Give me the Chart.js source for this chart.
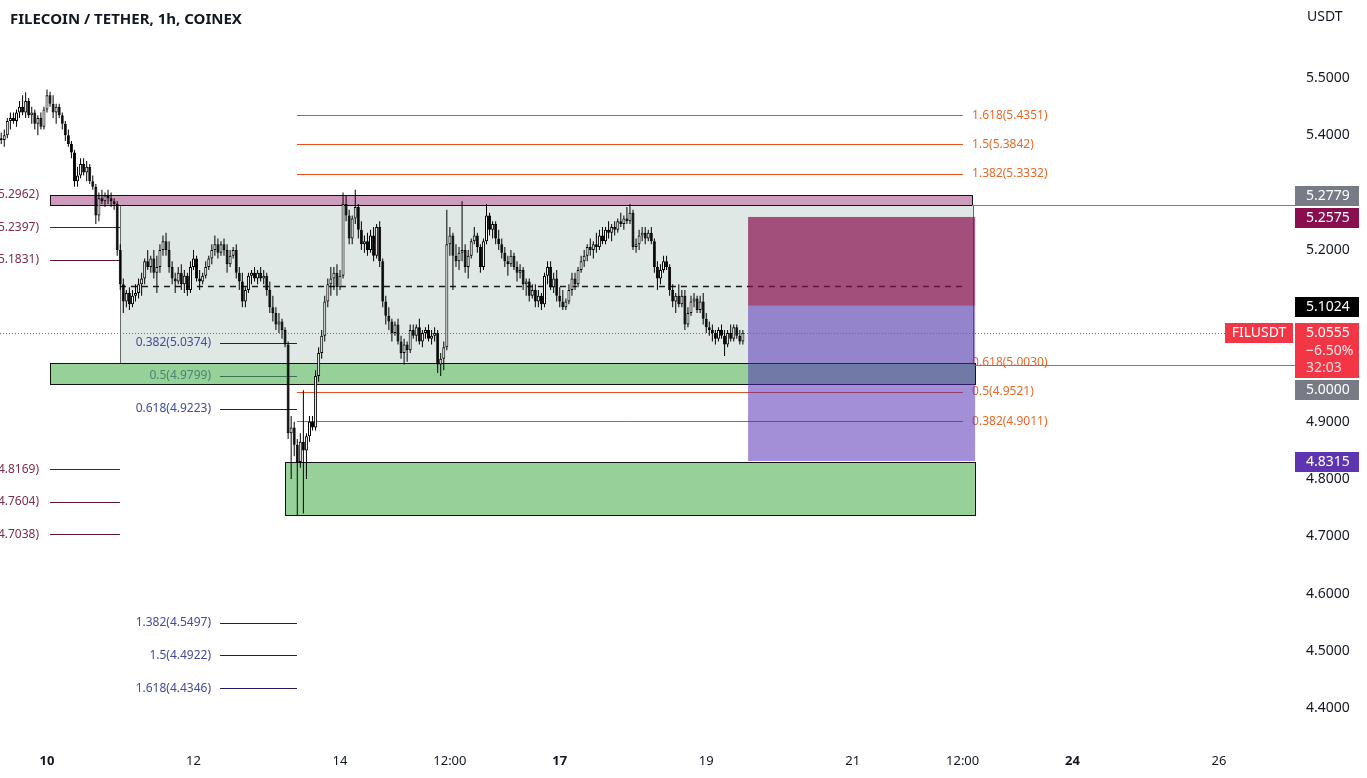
<!DOCTYPE html>
<html><head><meta charset="utf-8">
<script src="https://cdn.jsdelivr.net/npm/chart.js@4.4.1/dist/chart.umd.min.js"></script>
<style>html,body{margin:0;padding:0;background:#fff;overflow:hidden}canvas{display:block}</style>
</head><body>
<canvas id="c" width="1367" height="778"></canvas>
<script>
// ---------- DATA ----------
const startHour = -15; // hours relative to Jan 10 00:00, one candle per hour
const opens = [
5.395,5.392,5.40,5.425,5.43,5.425,5.44,5.45,5.44,5.46,5.435,5.44,5.42,5.43,5.415,
5.445,5.47,5.455,5.44,5.45,5.435,5.42,5.40,5.385,5.37,
5.32,5.33,5.35,5.335,5.345,5.32,5.31,5.26,5.29,5.285,
5.295,5.29,5.285,5.28,5.20,5.14,5.11,5.125,5.105,5.12,
5.125,5.14,5.15,5.18,5.17,5.185,5.16,5.17,5.20,5.215,
5.20,5.17,5.15,5.145,5.16,5.14,5.155,5.13,5.17,5.185,
5.15,5.145,5.155,5.17,5.185,5.20,5.21,5.195,5.21,5.20,
5.175,5.19,5.20,5.16,5.145,5.11,5.13,5.155,5.16,5.15,
5.16,5.15,5.155,5.13,5.10,5.09,5.07,5.075,5.06,5.035,
4.88,4.89,4.86,4.83,4.865,4.85,4.875,4.90,4.89,4.98,
5.02,5.05,5.11,5.14,5.15,5.16,5.135,5.155,5.28,5.26,
5.22,5.255,5.275,5.235,5.21,5.215,5.20,5.225,5.19,5.24,
5.18,5.11,5.085,5.075,5.055,5.07,5.04,5.02,5.035,5.025,
5.06,5.05,5.065,5.04,5.055,5.06,5.045,5.05,5.055,5.00,
5.01,5.03,5.21,5.225,5.19,5.18,5.195,5.20,5.17,5.19,
5.215,5.225,5.205,5.17,5.215,5.26,5.235,5.245,5.22,5.21,
5.195,5.18,5.175,5.19,5.17,5.16,5.165,5.14,5.145,5.12,
5.13,5.11,5.12,5.105,5.155,5.17,5.135,5.15,5.12,5.11,
5.10,5.11,5.13,5.15,5.14,5.165,5.18,5.19,5.205,5.20,
5.21,5.205,5.225,5.215,5.235,5.23,5.24,5.235,5.25,5.245,
5.255,5.25,5.265,5.205,5.21,5.225,5.23,5.22,5.23,5.215,
5.17,5.15,5.165,5.18,5.17,5.13,5.11,5.12,5.105,5.12,
5.07,5.09,5.11,5.115,5.095,5.11,5.08,5.065,5.06,5.055,
5.045,5.06,5.05,5.035,5.055,5.045,5.065,5.05,5.04];
const highs = [
5.405,5.41,5.43,5.44,5.44,5.445,5.46,5.47,5.475,5.465,5.45,5.445,5.435,5.44,5.45,
5.48,5.476,5.47,5.455,5.455,5.44,5.425,5.41,5.39,5.375,
5.345,5.36,5.36,5.355,5.35,5.33,5.315,5.30,5.305,5.30,
5.305,5.30,5.29,5.285,5.21,5.15,5.13,5.135,5.13,5.14,
5.15,5.16,5.185,5.20,5.19,5.20,5.19,5.21,5.225,5.23,
5.215,5.18,5.16,5.17,5.175,5.165,5.16,5.18,5.20,5.19,
5.165,5.16,5.18,5.19,5.21,5.225,5.22,5.215,5.22,5.21,
5.20,5.205,5.21,5.17,5.16,5.135,5.16,5.165,5.17,5.165,
5.17,5.165,5.16,5.145,5.12,5.10,5.09,5.08,5.065,5.04,
4.91,4.90,4.87,4.88,4.955,4.88,4.91,4.91,4.99,5.03,
5.06,5.12,5.15,5.17,5.17,5.175,5.165,5.30,5.295,5.27,
5.26,5.305,5.28,5.25,5.225,5.23,5.235,5.24,5.245,5.25,
5.185,5.12,5.10,5.08,5.075,5.08,5.05,5.045,5.04,5.07,
5.07,5.07,5.08,5.06,5.065,5.07,5.06,5.065,5.06,5.02,
5.04,5.27,5.24,5.23,5.21,5.205,5.285,5.21,5.20,5.22,
5.24,5.23,5.21,5.22,5.28,5.265,5.25,5.25,5.235,5.22,
5.205,5.19,5.20,5.195,5.18,5.175,5.17,5.15,5.15,5.14,
5.14,5.13,5.125,5.16,5.18,5.18,5.16,5.165,5.135,5.13,
5.115,5.14,5.16,5.16,5.17,5.19,5.20,5.21,5.22,5.215,
5.23,5.235,5.24,5.24,5.25,5.245,5.25,5.255,5.265,5.26,
5.275,5.28,5.27,5.22,5.235,5.24,5.24,5.235,5.24,5.22,
5.18,5.175,5.19,5.19,5.175,5.14,5.125,5.14,5.13,5.13,
5.10,5.12,5.125,5.12,5.12,5.125,5.09,5.075,5.07,5.06,
5.065,5.07,5.06,5.06,5.07,5.07,5.07,5.06,5.06];
const lows = [
5.385,5.38,5.395,5.41,5.42,5.415,5.43,5.435,5.43,5.43,5.42,5.41,5.40,5.41,5.41,
5.44,5.45,5.43,5.42,5.43,5.41,5.39,5.38,5.36,5.31,
5.31,5.325,5.33,5.32,5.315,5.305,5.245,5.25,5.28,5.275,
5.28,5.275,5.27,5.19,5.13,5.09,5.10,5.095,5.10,5.11,
5.115,5.12,5.14,5.165,5.16,5.15,5.125,5.16,5.19,5.19,
5.16,5.14,5.125,5.14,5.13,5.125,5.12,5.125,5.165,5.145,
5.13,5.14,5.15,5.165,5.175,5.19,5.185,5.19,5.19,5.16,
5.17,5.185,5.15,5.13,5.10,5.10,5.125,5.14,5.145,5.14,
5.145,5.14,5.12,5.09,5.075,5.06,5.055,5.045,5.03,4.87,
4.80,4.84,4.736,4.82,4.74,4.80,4.865,4.885,4.885,4.97,
5.01,5.04,5.10,5.12,5.13,5.12,5.13,5.15,5.25,5.21,
5.21,5.245,5.22,5.20,5.195,5.19,5.195,5.18,5.185,5.17,
5.10,5.07,5.06,5.04,5.05,5.035,5.01,5.00,5.005,5.02,
5.045,5.04,5.035,5.03,5.045,5.04,5.035,5.04,4.985,4.98,
4.99,5.025,5.19,5.13,5.17,5.165,5.18,5.16,5.15,5.185,
5.21,5.195,5.16,5.165,5.21,5.225,5.22,5.21,5.20,5.185,
5.17,5.155,5.17,5.165,5.145,5.15,5.13,5.12,5.11,5.115,
5.10,5.10,5.095,5.10,5.14,5.13,5.125,5.11,5.10,5.095,
5.095,5.105,5.12,5.13,5.135,5.16,5.17,5.18,5.19,5.185,
5.195,5.20,5.21,5.21,5.22,5.215,5.225,5.23,5.24,5.235,
5.245,5.245,5.20,5.195,5.20,5.215,5.21,5.215,5.21,5.16,
5.13,5.14,5.16,5.165,5.12,5.10,5.09,5.10,5.10,5.06,
5.065,5.085,5.10,5.09,5.09,5.07,5.055,5.05,5.04,5.035,
5.04,5.045,5.015,5.03,5.04,5.04,5.045,5.035,5.035];
const closes = [
5.392,5.40,5.425,5.43,5.425,5.44,5.45,5.44,5.46,5.435,5.44,5.42,5.43,5.415,5.445,
5.47,5.455,5.44,5.45,5.435,5.42,5.40,5.385,5.37,5.32,
5.33,5.35,5.335,5.345,5.32,5.31,5.26,5.29,5.285,5.295,
5.29,5.285,5.28,5.20,5.14,5.11,5.125,5.105,5.12,5.125,
5.14,5.15,5.18,5.17,5.185,5.16,5.17,5.20,5.215,5.20,
5.17,5.15,5.145,5.16,5.14,5.155,5.13,5.17,5.185,5.15,
5.145,5.155,5.17,5.185,5.20,5.21,5.195,5.21,5.20,5.175,
5.19,5.20,5.16,5.145,5.11,5.13,5.155,5.16,5.15,5.16,
5.15,5.155,5.13,5.10,5.09,5.07,5.075,5.06,5.035,4.88,
4.89,4.86,4.83,4.865,4.85,4.875,4.90,4.89,4.98,5.02,
5.05,5.11,5.14,5.15,5.16,5.135,5.155,5.28,5.26,5.22,
5.255,5.275,5.235,5.21,5.215,5.20,5.225,5.19,5.24,5.18,
5.11,5.085,5.075,5.055,5.07,5.04,5.02,5.035,5.025,5.06,
5.05,5.065,5.04,5.055,5.06,5.045,5.05,5.055,5.00,5.01,
5.03,5.21,5.225,5.19,5.18,5.195,5.20,5.17,5.19,5.215,
5.225,5.205,5.17,5.215,5.26,5.235,5.245,5.22,5.21,5.195,
5.18,5.175,5.19,5.17,5.16,5.165,5.14,5.145,5.12,5.13,
5.11,5.12,5.105,5.155,5.17,5.135,5.15,5.12,5.11,5.10,
5.11,5.13,5.15,5.14,5.165,5.18,5.19,5.205,5.20,5.21,
5.205,5.225,5.215,5.235,5.23,5.24,5.235,5.25,5.245,5.255,
5.25,5.265,5.205,5.21,5.225,5.23,5.22,5.23,5.215,5.17,
5.15,5.165,5.18,5.17,5.13,5.11,5.12,5.105,5.12,5.07,
5.09,5.11,5.115,5.095,5.11,5.08,5.065,5.06,5.055,5.045,
5.06,5.05,5.035,5.055,5.045,5.065,5.05,5.04,5.0555];

const xTickHours  = [0, 48, 96, 132, 168, 216, 264, 300, 336, 384];
const xTickLabels = ['10','12','14','12:00','17','19','21','12:00','24','26'];
const xTickBold   = [true,false,false,false,true,false,false,false,true,false];
const yTickValues = [4.4,4.5,4.6,4.7,4.8,4.9,5.0,5.1,5.2,5.3,5.4,5.5];

const symbolTitle = 'FILECOIN / TETHER, 1h, COINEX';
const quoteUnit = 'USDT';
const tickerName = 'FILUSDT';
const lastPrice = 5.0555;
const lastChange = '\u22126.50%';
const countdown = '32:03';

const orangeFibLevels = ['1.618','1.5','1.382','0.618','0.5','0.382'];
const orangeFibPrices = [5.4351,5.3842,5.3332,5.0030,4.9521,4.9011];
const navyFibLevels = ['0.382','0.5','0.618','1.382','1.5','1.618'];
const navyFibPrices = [5.0374,4.9799,4.9223,4.5497,4.4922,4.4346];
const redFibPrices = [5.2962,5.2397,5.1831,4.8169,4.7604,4.7038];

const pinkZonePrices = [5.2962, 5.2779];
const rangeZonePrices = [5.2779, 5.0030];
const rangeMidPrice = 5.137;
const greenZoneUpperPrices = [5.0030, 4.9660];
const greenZoneLowerPrices = [4.8290, 4.7370];
const positionPrices = [5.2575, 5.1024, 4.8315]; // stop, entry, target
const rayPrices = [5.2779, 5.0000];

if (!(opens.length===highs.length && highs.length===lows.length && lows.length===closes.length)) {
  throw new Error('length mismatch '+opens.length+' '+highs.length+' '+lows.length+' '+closes.length);
}

// ---------- CHART ----------
const FONT = '"Noto Sans", "Open Sans", Arial, sans-serif';
Chart.defaults.font.family = FONT;
Chart.defaults.color = '#131722';

const hours = closes.map((c,i)=>startHour+i);
const isUp = closes.map((c,i)=>c>=opens[i]);

const drawings = {
  id: 'drawings',
  beforeDatasetsDraw(chart) {
    const ctx = chart.ctx, xs = chart.scales.x, ys = chart.scales.y, ca = chart.chartArea;
    const X = v => xs.getPixelForValue(v), Y = v => ys.getPixelForValue(v);
    const hl = (x1,x2,y,color,w,dash) => {
      ctx.save(); ctx.strokeStyle=color; ctx.lineWidth=w||1; ctx.setLineDash(dash||[]);
      const yy = Math.round(y)+0.5;
      ctx.beginPath(); ctx.moveTo(x1,yy); ctx.lineTo(x2,yy); ctx.stroke(); ctx.restore();
    };
    const box = (x1,x2,p1,p2,fill,stroke) => {
      const y1=Math.round(Y(p1))+0.5, y2=Math.round(Y(p2))+0.5, a=Math.round(x1)+0.5, b=Math.round(x2)+0.5;
      ctx.fillStyle=fill; ctx.fillRect(a,y1,b-a,y2-y1);
      if (stroke){ ctx.strokeStyle=stroke; ctx.lineWidth=1; ctx.strokeRect(a,y1,b-a,y2-y1); }
    };
    ctx.save();
    ctx.textBaseline='middle';
    ctx.font = '12px '+FONT;
    // range box
    box(X(23.9), X(303.4), rangeZonePrices[0], rangeZonePrices[1], '#dfe8e5', '#6a6a6a');
    // navy fib (left)
    navyFibPrices.forEach((p,i)=>{
      hl(X(56.7), X(81.9), Y(p), '#1f1b5e', 1);
      ctx.fillStyle='#454a9c'; ctx.textAlign='right';
      ctx.fillText(navyFibLevels[i]+'('+p.toFixed(4)+')', X(56.7)-9, Y(p));
    });
    // dark red fib (far left)
    redFibPrices.forEach((p)=>{
      hl(X(1.0), X(23.9), Y(p), '#5a1530', 1);
      ctx.fillStyle='#7f2c46'; ctx.textAlign='right';
      ctx.fillText('('+p.toFixed(4)+')', X(-2.6), Y(p));
    });
    // mid dashed line
    hl(X(23.9), X(301), Y(rangeMidPrice), '#1a1a1a', 1.3, [6,5]);
    // pink zone
    box(X(1.0), X(303.1), pinkZonePrices[0], pinkZonePrices[1], '#cf9bbc', '#111');
    // orange fib
    orangeFibPrices.forEach((p,i)=>{
      hl(X(81.9), X(300.1), Y(p), '#e4501e', 1);
      ctx.fillStyle='#e8682a'; ctx.textAlign='left';
      ctx.fillText(orangeFibLevels[i]+'('+p.toFixed(4)+')', X(303.1), Y(p));
    });
    // green zones
    box(X(1.0), X(304.1), greenZoneUpperPrices[0], greenZoneUpperPrices[1], 'rgba(76,175,80,0.58)', '#111');
    box(X(78), X(304.1), greenZoneLowerPrices[0], greenZoneLowerPrices[1], 'rgba(76,175,80,0.58)', '#111');
    // position tool
    const px1 = X(229.7), px2 = X(304.1);
    ctx.fillStyle='rgba(136,14,79,0.7)';
    ctx.fillRect(px1, Y(positionPrices[0]), px2-px1, Y(positionPrices[1])-Y(positionPrices[0]));
    ctx.fillStyle='rgba(78,40,178,0.52)';
    ctx.fillRect(px1, Y(positionPrices[1]), px2-px1, Y(positionPrices[2])-Y(positionPrices[1]));
    // rays
    hl(X(303.1), ca.right, Y(rayPrices[0]), '#787b86', 1);
    hl(X(304.1), ca.right, Y(rayPrices[1]), '#787b86', 1);
    // last price dotted
    hl(ca.left, 1225, Y(lastPrice), '#f23645', 1, [1,2]);
    ctx.restore();
  },
  afterDraw(chart) {
    const ctx = chart.ctx, ys = chart.scales.y, ca = chart.chartArea;
    const Y = v => ys.getPixelForValue(v);
    ctx.save();
    // title
    ctx.fillStyle='#131722'; ctx.textAlign='left'; ctx.textBaseline='middle';
    ctx.font = 'bold 15px '+FONT;
    ctx.fillText(symbolTitle, 10, 20);
    ctx.font = '14px '+FONT;
    ctx.fillText(quoteUnit, 1307, 17);
    // axis price labels
    const lbl = (text, cy, bg, fg) => {
      ctx.fillStyle=bg; ctx.fillRect(ca.right, Math.round(cy-10), 64, 20);
      ctx.fillStyle=fg; ctx.font='14px '+FONT; ctx.textAlign='left'; ctx.textBaseline='middle';
      ctx.fillText(text, ca.right+11, Math.round(cy)+0.5);
    };
    lbl(rayPrices[0].toFixed(4), Y(rayPrices[0])-9, '#787b86', '#fff');
    lbl(positionPrices[0].toFixed(4), Y(positionPrices[0])+1, '#880e4f', '#fff');
    lbl(positionPrices[1].toFixed(4), Y(positionPrices[1])+1, '#000', '#fff');
    lbl(rayPrices[1].toFixed(4), Y(rayPrices[1])+25.5, '#787b86', '#fff');
    lbl(positionPrices[2].toFixed(4), Y(positionPrices[2])+1, '#5e35b1', '#fff');
    // last price block
    const top = Math.round(Y(lastPrice)-10);
    ctx.fillStyle='#f23645';
    ctx.fillRect(ca.right, top, 64, 55);
    ctx.fillRect(1225, top, 68, 20);
    ctx.fillStyle='#fff'; ctx.font='14px '+FONT; ctx.textAlign='left';
    ctx.fillText(lastPrice.toFixed(4), ca.right+11, top+10.5);
    ctx.fillStyle='rgba(255,255,255,0.88)';
    ctx.fillText(lastChange, ca.right+11, top+28);
    ctx.fillStyle='rgba(255,225,228,0.95)';
    ctx.fillText(countdown, ca.right+11, top+45);
    ctx.fillStyle='#fff'; ctx.textAlign='center';
    ctx.fillText(tickerName, 1259, top+10.5);
    ctx.restore();
  }
};

new Chart(document.getElementById('c'), {
  type: 'bar',
  data: {
    datasets: [
      { label:'body', data: hours.map((h,i)=>({x:h, y:[opens[i], closes[i]]})),
        backgroundColor: isUp.map(u=>u?'#ffffff':'#000000'), borderColor:'#000', borderWidth:1,
        borderSkipped:false, barThickness:3, grouped:false, inflateAmount:0 },
      { label:'wick', data: hours.map((h,i)=>({x:h, y:[lows[i], highs[i]]})),
        backgroundColor:'#000', borderWidth:0, barThickness:1, grouped:false, inflateAmount:0 }
    ]
  },
  options: {
    responsive:false, animation:false, devicePixelRatio:1,
    layout:{padding:0},
    plugins:{legend:{display:false}, tooltip:{enabled:false}},
    scales:{
      x:{ type:'linear', min:-15.40, max:408.9, offset:false,
          grid:{display:false, drawTicks:false}, border:{display:false},
          afterBuildTicks: s => { s.ticks = xTickHours.map(v=>({value:v})); },
          afterFit: s => { s.height = 33; s.paddingLeft = 0; s.paddingRight = 0; s.paddingTop = 0; s.paddingBottom = 0; },
          ticks:{ autoSkip:false, maxRotation:0, padding:8, color:'#131722',
                  callback:(v,i)=>xTickLabels[i],
                  font: c => ({size:13, weight: xTickBold[c.index] ? 'bold':'normal'}) } },
      y:{ position:'right', min:4.33595, max:5.63613,
          grid:{display:false, drawTicks:false}, border:{display:false},
          afterBuildTicks: s => { s.ticks = yTickValues.map(v=>({value:v})); },
          afterFit: s => { s.width = 72; s.paddingTop = 0; s.paddingBottom = 0; s.paddingLeft = 0; s.paddingRight = 0; },
          ticks:{ padding:11, color:'#131722', font:{size:14}, callback:v=>Number(v).toFixed(4) } }
    }
  },
  plugins:[drawings]
});
</script>
</body></html>
